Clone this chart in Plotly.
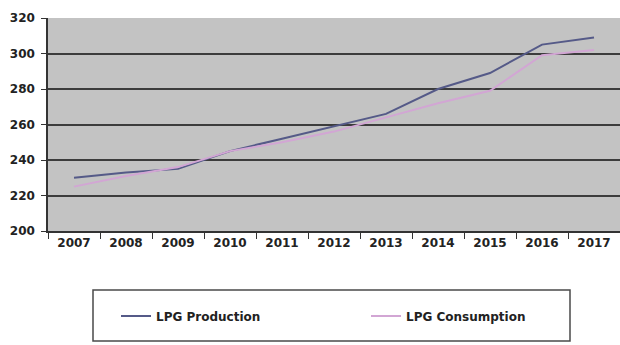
import plotly.graph_objects as go

years = ["2007", "2008", "2009", "2010", "2011", "2012", "2013", "2014", "2015", "2016", "2017"]
lpg_production = [230, 233, 235, 245, 252, 259, 266, 280, 289, 305, 309]
lpg_consumption = [225, 231, 236, 245, 250, 256, 264, 272, 279, 299, 302]
y_ticks = [200, 220, 240, 260, 280, 300, 320]

W, H = 620, 345
ML, MR, MT, MB = 48, 0, 18, 114
PW, PH = W - ML - MR, H - MT - MB


def px_x(p):
    return (p - ML) / PW


def px_y(p):
    return (H - MB - p) / PH


font = dict(family="DejaVu Sans", size=12, color="#222222")

fig = go.Figure()
fig.add_trace(go.Scatter(x=years, y=lpg_production, mode="lines", name="<b>LPG Production</b>",
                         line=dict(color="#555a88", width=2)))
fig.add_trace(go.Scatter(x=years, y=lpg_consumption, mode="lines", name="<b>LPG Consumption</b>",
                         line=dict(color="#d2a6d4", width=2)))

# legend frame
fig.add_shape(type="rect", xref="paper", yref="paper",
              x0=px_x(93), x1=px_x(570), y0=px_y(341), y1=px_y(290),
              line=dict(color="#4a4a4a", width=1.5), fillcolor="white", layer="below")

fig.update_layout(
    width=W, height=H,
    margin=dict(l=ML, r=MR, t=MT, b=MB),
    paper_bgcolor="white",
    plot_bgcolor="#c3c3c3",
    font=font,
    showlegend=True,
    legend=dict(orientation="h", x=px_x(116), xanchor="left", y=px_y(316), yanchor="middle",
                entrywidth=205, entrywidthmode="pixels", bgcolor="rgba(0,0,0,0)",
                font=dict(family="DejaVu Sans", size=12, color="#222222"), borderwidth=0),
    xaxis=dict(type="category", tickson="boundaries", ticks="outside", ticklen=6,
               tickcolor="#333333", showgrid=False, showline=True, linecolor="#333333",
               linewidth=1.5, tickvals=years, ticktext=[f"<b>{y}</b>" for y in years],
               range=[-0.5, len(years) - 0.5], zeroline=False),
    yaxis=dict(range=[200, 320], tickvals=y_ticks, ticktext=[f"<b>{v}</b>" for v in y_ticks],
               ticks="outside", ticklen=5, tickcolor="#333333", showline=True,
               linecolor="#333333", linewidth=1.5, showgrid=True, gridcolor="#3c3c3c",
               gridwidth=2, zeroline=False, ticklabelstandoff=4),
)

fig.write_html("out.html")
